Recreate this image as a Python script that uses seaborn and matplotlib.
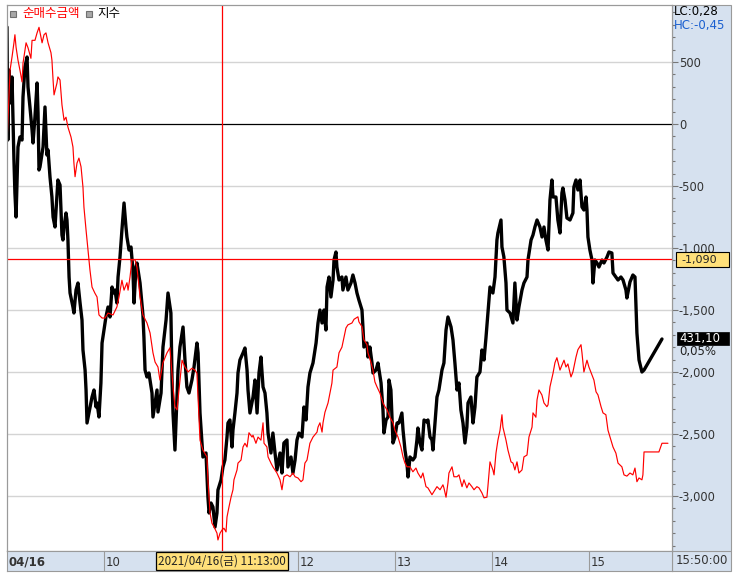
import matplotlib
matplotlib.use("Agg")
import matplotlib.pyplot as plt
import matplotlib.ticker as mticker
from matplotlib.patches import Rectangle
from matplotlib.lines import Line2D
from matplotlib.transforms import blended_transform_factory
import seaborn as sns

sns.set_style("white")
plt.rcParams['font.family'] = ['Noto Sans CJK KR', 'DejaVu Sans']
plt.rcParams['axes.unicode_minus'] = False

# 순매수금액 (minutes after 09:00, amount)
amt_min = [0.0, 1.9, 3.1, 4.3, 4.9, 5.6, 6.8, 8.0, 9.3, 9.9, 11.8, 13.0, 14.8, 15.5, 17.3, 18.6, 19.8,
           21.7, 22.9, 24.1, 25.4, 27.2, 27.8, 28.5, 29.1, 30.9, 31.5, 32.8, 34.0, 35.3, 36.5, 37.7,
           39.6, 40.8, 41.4, 42.1, 43.3, 44.5, 45.8, 47.0, 47.6, 48.9, 50.1, 51.3, 52.6, 54.4, 55.7,
           56.9, 58.8, 60.6, 62.5, 65.6, 68.0, 69.3, 71.1, 72.4, 74.2, 74.9, 76.1, 77.3, 79.2, 80.4,
           82.3, 84.1, 86.6, 88.5, 90.3, 91.6, 93.4, 94.6, 96.5, 99.0, 100.8, 102.7, 103.9, 105.2,
           106.4, 108.3, 110.1, 112.0, 114.4, 116.3, 117.5, 119.4, 121.2, 123.7, 124.3, 125.6, 126.8,
           128.1, 129.9, 130.5, 131.8, 133.0, 134.2, 135.5, 136.1, 137.3, 138.6, 139.8, 140.4, 142.3,
           142.9, 144.8, 146.0, 147.2, 148.5, 149.7, 151.6, 152.2, 154.0, 155.3, 157.1, 158.4, 159.0,
           160.8, 161.5, 163.3, 164.5, 167.0, 168.9, 170.1, 171.3, 173.2, 175.1, 176.9, 178.2, 180.0,
           181.9, 183.1, 184.3, 185.6, 187.4, 189.3, 191.8, 192.4, 193.6, 194.9, 195.5, 196.7, 198.6,
           201.0, 201.7, 204.1, 205.4, 207.2, 208.5, 209.7, 210.9, 213.4, 214.7, 215.9, 217.1, 217.7,
           219.6, 220.8, 222.7, 223.3, 225.2, 226.4, 227.6, 228.9, 230.7, 232.6, 233.8, 235.1, 236.9,
           238.8, 240.0, 241.9, 243.7, 245.0, 246.2, 247.4, 249.3, 251.1, 253.0, 254.2, 256.1, 257.3,
           259.2, 260.4, 262.9, 264.8, 266.0, 267.9, 269.7, 270.3, 271.6, 272.8, 273.4, 275.3, 276.5,
           278.4, 279.6, 281.5, 282.7, 284.5, 285.8, 287.6, 288.9, 290.7, 292.0, 293.8, 295.1, 296.9,
           297.5, 298.8, 300.6, 301.3, 302.5, 303.7, 305.0, 306.2, 306.8, 308.7, 309.9, 311.8, 313.0,
           314.2, 315.5, 316.7, 318.6, 319.8, 321.7, 322.9, 324.8, 325.4, 327.2, 327.9, 329.1, 330.9,
           332.2, 334.0, 334.7, 335.9, 337.8, 339.0, 340.2, 342.1, 343.3, 344.6, 345.8, 347.0, 348.9,
           350.1, 352.0, 353.2, 355.1, 355.7, 356.9, 358.8, 360.0, 361.9, 363.1, 364.4, 365.6, 367.5,
           368.7, 370.5, 371.8, 373.6, 374.9, 376.7, 378.0, 380.4, 381.7, 383.5, 385.4, 387.2, 388.5,
           389.7, 391.0, 392.8, 393.4, 394.1, 399.6, 403.3, 405.2, 408.9]
amt_val = [-150, 435, 540, 655, 720, 620, 515, 435, 340, 490, 655, 615, 530, 675, 675, 735, 780,
           655, 720, 735, 655, 575, 515, 355, 235, 330, 380, 355, 155, 30, 55, -25,
           -105, -185, -315, -425, -315, -275, -345, -510, -670, -855, -1015, -1175, -1315, -1365, -1395,
           -1540, -1565, -1565, -1525, -1540, -1475, -1395, -1260, -1340, -1280, -1340, -1235, -1095, -1095, -1155,
           -1395, -1540, -1605, -1685, -1845, -1920, -1960, -2065, -1925, -1845, -1805, -2120, -2280, -2305,
           -2145, -1905, -1960, -2000, -1970, -1985, -2010, -2550, -2630, -2685, -2870, -3135, -3220,
           -3250, -3300, -3355, -3300, -3275, -3260, -3290, -3170, -3090, -3010, -2950, -2870, -2790,
           -2735, -2710, -2605, -2575, -2605, -2490, -2525, -2510, -2575, -2525, -2550, -2410, -2575,
           -2605, -2685, -2735, -2765, -2815, -2870, -2950, -2845, -2830, -2845, -2815, -2845, -2855,
           -2885, -2870, -2735, -2710, -2575, -2525, -2485, -2445, -2410, -2485, -2410, -2325, -2250,
           -2090, -1985, -1960, -1845, -1800, -1720, -1645, -1620, -1605, -1575, -1565, -1555, -1595,
           -1635, -1740, -1780, -1845, -1925, -1985, -2080, -2120, -2170, -2250, -2280, -2305, -2365,
           -2410, -2470, -2525, -2605, -2685, -2735, -2765, -2765, -2805, -2775, -2815, -2855, -2815,
           -2925, -2935, -2990, -2950, -2925, -2950, -2910, -2935, -3010, -2895, -2815, -2765, -2845,
           -2845, -2830, -2925, -2870, -2935, -2895, -2925, -2950, -2925, -2935, -2975, -3015, -3010,
           -2925, -2725, -2790, -2830, -2655, -2550, -2470, -2345, -2445, -2550, -2630, -2725, -2735,
           -2790, -2725, -2815, -2790, -2685, -2670, -2525, -2445, -2330, -2365, -2225, -2145, -2185,
           -2250, -2280, -2265, -2120, -2010, -1925, -1885, -1985, -1945, -1905, -1960, -1935, -2040,
           -2000, -1880, -1820, -1780, -1845, -2000, -1905, -1960, -2025, -2065, -2160, -2185, -2280,
           -2330, -2345, -2470, -2550, -2605, -2655, -2735, -2765, -2830, -2840, -2815, -2830, -2775,
           -2885, -2855, -2870, -2830, -2645, -2645, -2645, -2575, -2575]

# 지수 (minutes after 09:00, index level)
idx_min = [0.0, 0.5, 1.2, 2.5, 3.1, 3.7, 4.3, 4.9, 5.6, 6.2, 6.8, 8.0, 9.3, 9.9, 11.1, 12.4, 13.0,
           14.2, 15.5, 16.1, 17.3, 18.6, 19.2, 19.8, 20.4, 21.7, 22.3, 23.5, 24.7, 25.4, 26.6, 27.8,
           28.5, 29.7, 30.9, 31.5, 32.8, 34.0, 34.6, 35.3, 36.5, 37.1, 37.7, 38.4, 39.0, 40.8, 41.4,
           42.7, 43.9, 45.2, 46.4, 47.0, 48.3, 48.9, 49.5, 50.7, 52.6, 53.8, 55.1, 55.7, 56.9, 58.1,
           58.8, 60.0, 61.2, 62.5, 63.7, 65.0, 65.6, 66.8, 68.0, 68.7, 69.9, 71.1, 72.4, 73.6, 74.2,
           75.5, 76.7, 77.9, 78.6, 79.8, 80.4, 82.3, 84.1, 84.7, 85.4, 86.6, 87.8, 89.7, 90.3, 91.6,
           92.8, 93.4, 95.3, 96.5, 98.4, 99.6, 101.4, 102.1, 102.7, 103.9, 105.2, 105.8, 107.0, 108.9,
           110.1, 111.3, 112.6, 114.4, 115.7, 117.5, 118.2, 119.4, 120.6, 121.2, 123.1, 124.3, 125.0,
           126.2, 127.4, 128.7, 129.9, 130.5, 132.4, 133.6, 134.8, 136.1, 136.7, 137.9, 139.2, 139.8,
           141.0, 142.3, 142.9, 144.1, 146.0, 147.2, 148.5, 149.1, 150.3, 152.2, 153.4, 154.7, 155.9,
           157.1, 158.4, 159.6, 160.8, 161.5, 163.3, 164.5, 165.8, 167.0, 168.9, 170.1, 171.3, 173.2,
           173.8, 175.7, 176.9, 178.2, 179.4, 180.6, 182.5, 183.7, 185.0, 186.2, 187.4, 189.3, 191.2,
           192.4, 193.6, 194.9, 196.1, 197.3, 198.0, 199.2, 200.4, 201.7, 202.3, 203.5, 204.1, 205.4,
           207.2, 207.8, 209.7, 210.9, 212.8, 214.0, 215.3, 216.5, 217.7, 219.6, 220.2, 220.8, 222.7,
           223.3, 224.5, 225.8, 226.4, 228.3, 229.5, 231.4, 232.6, 233.2, 234.5, 235.7, 236.3, 237.5,
           238.8, 240.0, 241.3, 242.5, 244.3, 245.0, 246.2, 247.4, 248.1, 249.3, 251.1, 252.4, 253.6,
           254.2, 255.5, 256.7, 258.0, 259.8, 260.4, 261.7, 262.9, 263.5, 264.8, 266.0, 267.2, 269.1,
           270.3, 271.6, 272.8, 274.7, 275.9, 277.1, 278.4, 279.6, 280.8, 282.1, 283.3, 284.5, 285.2,
           287.0, 288.3, 289.5, 290.7, 292.6, 293.8, 295.1, 296.3, 297.5, 298.8, 300.6, 301.9, 303.1,
           303.7, 305.6, 306.2, 307.4, 308.7, 309.3, 311.2, 313.0, 314.2, 315.5, 316.7, 318.6, 319.8,
           321.7, 322.3, 324.2, 325.4, 326.6, 327.9, 329.7, 331.0, 332.2, 333.4, 334.7, 335.9, 337.1,
           337.8, 339.6, 340.8, 342.1, 343.3, 343.9, 345.2, 346.4, 348.3, 350.1, 350.7, 352.0, 353.2,
           354.5, 355.7, 356.9, 358.2, 358.8, 359.4, 360.6, 361.9, 362.5, 363.7, 365.0, 366.2, 368.1,
           369.3, 371.2, 372.4, 374.2, 374.9, 376.7, 378.0, 379.8, 381.1, 382.9, 383.5, 385.4, 387.2,
           388.5, 389.7, 391.0, 392.8, 394.1, 405.2]
idx_val = [434.23, 433.10, 433.80, 433.47, 433.73, 433.30, 432.90, 432.57, 432.33, 432.70, 433.03, 433.13, 433.10, 433.53, 433.83, 433.93, 433.63,
           433.43, 433.20, 433.07, 433.33, 433.67, 433.37, 432.80, 432.83, 432.97, 433.03, 433.43, 432.95, 433.00, 432.73, 432.53,
           432.33, 432.23, 432.55, 432.70, 432.65, 432.15, 432.10, 432.23, 432.37, 432.30, 432.10, 431.73, 431.57, 431.43, 431.37,
           431.60, 431.67, 431.47, 431.30, 431.00, 430.80, 430.60, 430.27, 430.37, 430.53, 430.60, 430.43, 430.47, 430.33, 430.67,
           431.07, 431.20, 431.33, 431.43, 431.33, 431.63, 431.57, 431.60, 431.47, 431.73, 431.93, 432.20, 432.47, 432.23, 432.13,
           432.00, 432.03, 431.80, 431.47, 431.83, 431.87, 431.67, 431.35, 431.13, 430.80, 430.73, 430.77, 430.57, 430.33, 430.47,
           430.60, 430.38, 430.57, 431.03, 431.30, 431.57, 431.37, 430.70, 430.37, 430.00, 430.53, 430.80, 431.03, 431.23,
           430.90, 430.63, 430.57, 430.70, 430.83, 431.07, 430.97, 430.37, 430.07, 429.93, 429.97, 429.53, 429.37,
           429.47, 429.43, 429.23, 429.37, 429.60, 429.70, 429.83, 429.90, 430.13, 430.27, 430.30, 430.03, 430.20,
           430.37, 430.57, 430.77, 430.90, 430.97, 431.02, 430.80, 430.60, 430.37, 430.53, 430.70, 430.37, 430.77,
           430.93, 430.63, 430.57, 430.37, 430.17, 429.97, 430.17, 429.97, 429.80, 429.97, 429.77, 430.07, 430.10,
           429.83, 429.93, 429.77, 429.90, 430.10, 430.17, 430.13, 430.43, 430.30, 430.63, 430.77, 430.87, 431.07,
           431.27, 431.40, 431.27, 431.40, 431.20, 431.63, 431.73, 431.53, 431.70, 431.90, 431.98, 431.83, 431.70,
           431.73, 431.60, 431.73, 431.60, 431.67, 431.75, 431.67, 431.57, 431.50, 431.40, 431.23, 431.03, 431.07,
           430.93, 431.03, 430.87, 430.77, 430.80, 430.87, 430.67, 430.40, 430.17, 430.30, 430.33, 430.70, 430.60,
           430.07, 430.13, 430.27, 430.27, 430.37, 430.20, 430.00, 429.87, 429.73, 429.93, 429.90, 429.93, 430.10,
           430.22, 430.07, 430.00, 430.30, 430.28, 430.30, 430.13, 430.10, 430.00, 430.27, 430.53, 430.60, 430.80,
           430.87, 431.20, 431.33, 431.23, 431.10, 430.87, 430.60, 430.67, 430.40, 430.27, 430.07, 430.23, 430.47,
           430.53, 430.27, 430.43, 430.73, 430.78, 431.00, 430.90, 431.12, 431.37, 431.63, 431.57, 431.73, 432.10,
           432.17, 432.30, 432.03, 431.93, 431.67, 431.40, 431.37, 431.27, 431.67, 431.30, 431.43, 431.60, 431.67,
           431.73, 431.90, 432.10, 432.15, 432.23, 432.30, 432.23, 432.13, 432.23, 432.10, 432.00, 432.50, 432.70,
           432.53, 432.53, 432.30, 432.17, 432.57, 432.62, 432.50, 432.32, 432.30, 432.37, 432.63, 432.70, 432.60,
           432.70, 432.43, 432.40, 432.53, 432.40, 432.13, 432.00, 431.90, 431.67, 431.90, 431.87, 431.83, 431.90,
           431.87, 431.93, 431.98, 431.97, 431.77, 431.73, 431.70, 431.73, 431.70, 431.60, 431.52, 431.68, 431.75,
           431.73, 431.17, 430.90, 430.78, 430.80, 431.11]

hour_ticks = [60, 180, 240, 300, 360]
hour_labels = ['10', '12', '13', '14', '15']
cursor_min = 133
cursor_amt = -1090
last_idx = 431.10

W, H = 737, 573
PANEL = '#d6e1ef'
EDGE = '#9a9a9a'


def fx(px):
    return px / W


def fy(py):
    return 1 - py / H


fig = plt.figure(figsize=(W / 100, H / 100), dpi=100)

# right scale panel and time strip backgrounds
fig.add_artist(Rectangle((fx(672), fy(571)), fx(731) - fx(672), fy(5) - fy(571),
                         transform=fig.transFigure, fc=PANEL, ec=EDGE, lw=0.8, zorder=-1))
fig.add_artist(Line2D([fx(672), fx(731)], [fy(551), fy(551)], transform=fig.transFigure,
                      color=EDGE, lw=0.8))

ax_idx = fig.add_axes([fx(7), fy(551), fx(672) - fx(7), fy(5) - fy(551)])
ax_amt = ax_idx.twinx()

# grid lines under both series
tr = blended_transform_factory(ax_idx.transAxes, ax_amt.transData)
for v in [500, -500, -1000, -1500, -2000, -2500, -3000]:
    ax_idx.plot([0, 1], [v, v], transform=tr, color='#d4d4d4', lw=1.0, zorder=0)
ax_idx.plot([0, 1], [0, 0], transform=tr, color='black', lw=0.9, zorder=0)

sns.lineplot(x=idx_min, y=idx_val, ax=ax_idx, color='black', linewidth=2.4,
             sort=False, estimator=None)
sns.lineplot(x=amt_min, y=amt_val, ax=ax_amt, color='#ff0000', linewidth=0.85,
             sort=False, estimator=None)
ax_idx.set_ylim(428.99, 434.45)
ax_amt.set_ylim(-3444, 960)
ax_idx.set_xlim(0, 411.4)

# cursor
ax_amt.axvline(cursor_min, color='#ff0000', lw=0.9)
ax_amt.axhline(cursor_amt, color='#ff0000', lw=0.9)

for a in (ax_idx, ax_amt):
    for s in a.spines.values():
        s.set_color(EDGE)
        s.set_linewidth(0.8)
    a.set_xlabel('')
    a.set_ylabel('')
ax_idx.tick_params(left=False, labelleft=False, bottom=False, labelbottom=False)
ax_amt.tick_params(bottom=False, labelbottom=False)

ax_amt.yaxis.set_major_locator(mticker.MultipleLocator(500))
ax_amt.yaxis.set_minor_locator(mticker.MultipleLocator(100))
ax_amt.yaxis.set_major_formatter(mticker.FuncFormatter(lambda v, p: f"{int(round(v)):,}"))
ax_amt.tick_params(axis='y', which='major', direction='out', length=4, width=0.8,
                   color='#777777', labelcolor='#333333', labelsize=8.3, pad=1)
ax_amt.tick_params(axis='y', which='minor', direction='out', length=2, width=0.8,
                   color='#777777')
for lab in ax_amt.get_yticklabels():
    lab.set_family('DejaVu Sans')

# value markers on the right scale
fig.add_artist(Rectangle((fx(676), fy(267)), fx(729) - fx(676), fy(252) - fy(267),
                         transform=fig.transFigure, fc='#ffe07a', ec='black', lw=0.8, zorder=5))
fig.text(fx(681), fy(260.5), f"{cursor_amt:,}", ha='left', va='center', fontsize=8.0,
         color='#222222', family='DejaVu Sans', zorder=6)
fig.add_artist(Rectangle((fx(677), fy(345)), fx(729) - fx(677), fy(332) - fy(345),
                         transform=fig.transFigure, fc='black', ec='black', lw=0.5, zorder=5))
fig.text(fx(679), fy(338.5), '431,10', ha='left', va='center', fontsize=8.5,
         color='white', family='DejaVu Sans', zorder=6)
fig.text(fx(679), fy(352), '0,05%', ha='left', va='center', fontsize=8.5,
         color='#222222', family='DejaVu Sans', zorder=6)

fig.text(fx(674), fy(12), 'LC:0,28', ha='left', va='center', fontsize=8.5,
         color='black', family='DejaVu Sans')
fig.text(fx(674), fy(26), 'HC:-0,45', ha='left', va='center', fontsize=8.5,
         color='#1a5fd0', family='DejaVu Sans')

# legend
fig.add_artist(Rectangle((fx(10), fy(17)), 6 / W, 6 / H, transform=fig.transFigure,
                         fc='#a8a8a8', ec='#707070', lw=0.8))
fig.text(fx(22), fy(14), '순매수금액', ha='left', va='center', fontsize=9.0, color='#ff0000')
fig.add_artist(Rectangle((fx(86), fy(17)), 6 / W, 6 / H, transform=fig.transFigure,
                         fc='#a8a8a8', ec='#707070', lw=0.8))
fig.text(fx(97), fy(14), '지수', ha='left', va='center', fontsize=9.0, color='black')

# time strip
ax_t = fig.add_axes([fx(7), fy(571), fx(672) - fx(7), fy(551) - fy(571)], sharex=ax_idx)
ax_t.set_facecolor(PANEL)
ax_t.set_ylim(0, 1)
ax_t.tick_params(left=False, labelleft=False, bottom=False, labelbottom=False)
for s in ax_t.spines.values():
    s.set_color(EDGE)
    s.set_linewidth(0.8)
for m, lab in zip(hour_ticks + [120], hour_labels + ['']):
    ax_t.axvline(m, color=EDGE, lw=0.8)
    ax_t.text(m + 1.2, 0.45, lab, ha='left', va='center', fontsize=8.5, color='#333333',
              family='DejaVu Sans')
ax_t.text(0.8, 0.45, '04/16', ha='left', va='center', fontsize=8.5, fontweight='bold',
          color='#333333', family='DejaVu Sans')
ax_t.text(cursor_min, 0.5, '2021/04/16(금) 11:13:00', ha='center', va='center', fontsize=8.4,
          color='#222222', family=['Noto Sans CJK KR', 'DejaVu Sans'],
          bbox=dict(boxstyle='square,pad=0.2', fc='#ffe07a', ec='black', lw=0.9))
fig.text(fx(702), fy(561), '15:50:00', ha='center', va='center', fontsize=8.5,
         color='#333333', family='DejaVu Sans')

fig.savefig('out.png', dpi=100)
